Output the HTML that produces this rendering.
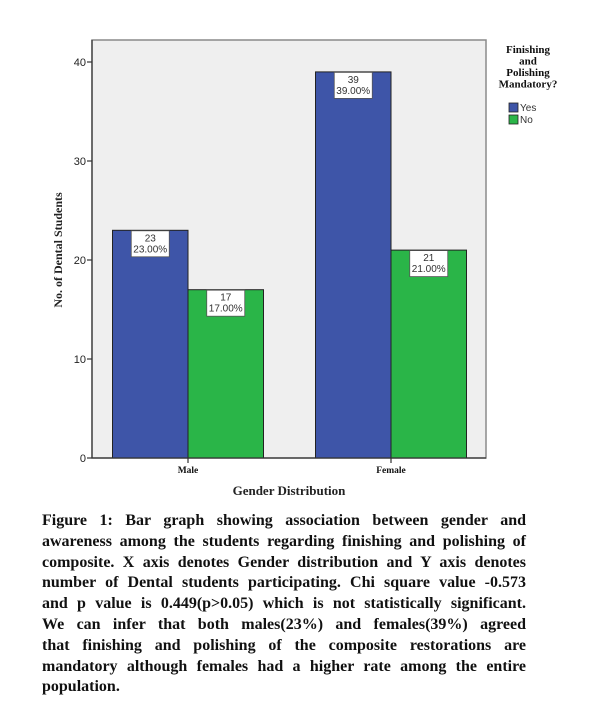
<!DOCTYPE html>
<html><head><meta charset="utf-8"><style>
body{margin:0;width:600px;height:707px;background:#fff;position:relative;overflow:hidden;font-family:"Liberation Sans",sans-serif}
#cap{position:absolute;left:42px;top:511px;width:484px;font-family:"Liberation Serif",serif;font-weight:bold;font-size:16px;color:#111}
#cap div{height:20.8px;line-height:20.8px;text-align:justify;text-align-last:justify;white-space:nowrap}
#cap div.last{text-align-last:left}
</style></head><body>
<svg id="chart" width="600" height="505" style="position:absolute;left:0;top:0"></svg>
<div id="cap">
<div>Figure 1: Bar graph showing association between gender and</div>
<div>awareness among the students regarding finishing and polishing of</div>
<div>composite. X axis denotes Gender distribution and Y axis denotes</div>
<div>number of Dental students participating. Chi square value -0.573</div>
<div>and p value is 0.449(p&gt;0.05) which is not statistically significant.</div>
<div>We can infer that both males(23%) and females(39%) agreed</div>
<div>that finishing and polishing of the composite restorations are</div>
<div>mandatory although females had a higher rate among the entire</div>
<div class="last">population.</div>
</div>
<script>
const categories=["Male","Female"];
const yesValues=[23,39];
const noValues=[17,21];
const yesLabels=["23.00%","39.00%"];
const noLabels=["17.00%","21.00%"];
const yTicks=[0,10,20,30,40];
const NS="http://www.w3.org/2000/svg";
const svg=document.getElementById('chart');
const L=92,R=486,T=40,B=458;
const y=v=>B-v*9.9;
const groupCenter=[188,391];
const bw=75.5;
function el(t,a,txt){const e=document.createElementNS(NS,t);for(const k in a)e.setAttribute(k,a[k]);if(txt!=null)e.textContent=txt;svg.appendChild(e);return e;}
let r=el('rect',{x:L,y:T,width:R-L,height:B-T,fill:'#efefef',stroke:'#8a8a8a','stroke-width':1.5});

yTicks.forEach(v=>{
 let t=el('line',{x1:L-5,x2:L,y1:y(v),y2:y(v),stroke:'#333','stroke-width':1.2});
 
 let tx=el('text',{x:L-6,y:y(v)+4,'text-anchor':'end','font-size':11,fill:'#222'},v);
 
});
function bar(x,v,color,lab,name){
 let b=el('rect',{x:x,y:y(v),width:bw,height:B-y(v),fill:color,stroke:'#222','stroke-width':1});
 
 let cx=x+bw/2;
 let bx=el('rect',{x:cx-19,y:y(v)+0.5,width:38,height:26,fill:'#fff',stroke:'#555','stroke-width':0.8});
 
 let t1=el('text',{x:cx,y:y(v)+11,'text-anchor':'middle','font-size':10,fill:'#333'},v);
 
 let t2=el('text',{x:cx,y:y(v)+22,'text-anchor':'middle','font-size':10,fill:'#333'},lab);
 
}
categories.forEach((c,i)=>{
 const gc=groupCenter[i];
 bar(gc-bw,yesValues[i],'#3e55a8',yesLabels[i],'bar-'+c.toLowerCase()+'-yes');
 bar(gc,noValues[i],'#2ab548',noLabels[i],'bar-'+c.toLowerCase()+'-no');
 let t=el('line',{x1:gc,x2:gc,y1:B,y2:B+5,stroke:'#333','stroke-width':1.2});
 
 let tx=el('text',{x:gc,y:B+15,'text-anchor':'middle','font-size':9.5,'font-weight':'bold','font-family':'Liberation Serif,serif',fill:'#111'},c);
 
});
let xa=el('line',{x1:L,x2:R,y1:B,y2:B,stroke:'#333','stroke-width':1.2});

let ya=el('line',{x1:L,x2:L,y1:T,y2:B,stroke:'#333','stroke-width':1.2});

let xt=el('text',{x:289,y:495,'text-anchor':'middle','font-size':13,'font-family':'Liberation Serif,serif','font-weight':'bold',fill:'#222'},'Gender Distribution');

let yt=el('text',{x:0,y:0,'text-anchor':'middle','font-size':12,'font-family':'Liberation Serif,serif','font-weight':'bold',fill:'#222',transform:'translate(62,250) rotate(-90)'},'No. of Dental Students');

['Finishing','and','Polishing','Mandatory?'].forEach((s,i)=>{
 let t=el('text',{x:528,y:53+i*11.5,'text-anchor':'middle','font-size':11,'font-weight':'bold','font-family':'Liberation Serif,serif',fill:'#111'},s);
 
});
[['Yes','#3e55a8'],['No','#2ab548']].forEach((d,i)=>{
 let s=el('rect',{x:509,y:103+i*12,width:9,height:9,fill:d[1],stroke:'#222','stroke-width':0.8});
 
 let t=el('text',{x:520,y:111+i*12,'font-size':10,fill:'#333'},d[0]);
 
});
</script>
</body></html>
